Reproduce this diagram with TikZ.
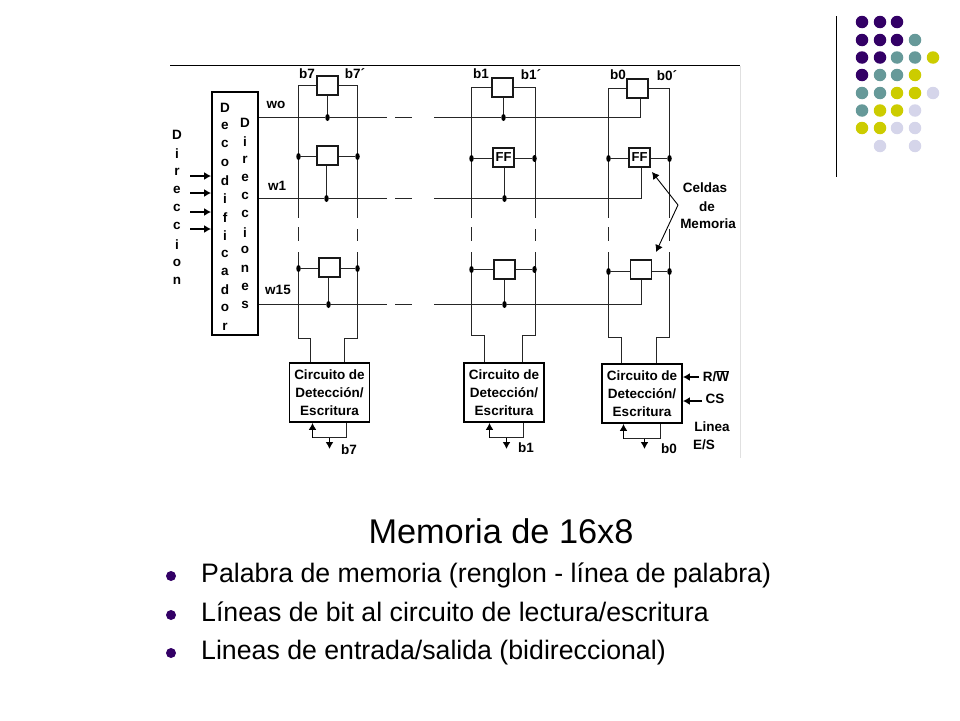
\documentclass[tikz,border=0pt]{standalone}
\usepackage{fontspec}
\setmainfont{Liberation Sans}
\usetikzlibrary{arrows.meta,calc,shapes.geometric}
\definecolor{palP}{HTML}{330066}
\definecolor{palT}{HTML}{669999}
\definecolor{palY}{HTML}{CCCC00}
\definecolor{palL}{HTML}{D5D5EA}
\begin{document}
\begin{tikzpicture}[x=1pt, y=-1pt]
\useasboundingbox (0,0) rectangle (960,720);
\tikzset{wire/.style={line width=1.1pt, color=black!85}}
\tikzset{sig/.style={line width=1.4pt, color=black, -{Latex[length=7pt,width=8pt]}}}
\tikzset{cell/.style={rectangle, draw=black!90, line width=1.8pt, fill=white, minimum width=21pt, minimum height=18.5pt, inner sep=0pt, font=\fontsize{13}{15}\selectfont\bfseries}}
\tikzset{junc/.style={ellipse, fill=black, minimum width=4.5pt, minimum height=7pt, inner sep=0pt}}
\tikzset{lbl/.style={inner sep=0pt, font=\fontsize{13.5}{15}\selectfont\bfseries}}
\tikzset{rw/.style={rectangle, draw=black, line width=1.8pt, fill=white, minimum width=80pt, minimum height=59pt, inner sep=0pt, align=center, font=\fontsize{13.5}{18}\selectfont\bfseries}}
\tikzset{slide/.style={anchor=base west, inner sep=0pt, font=\fontsize{26.7}{30}\selectfont}}
\tikzset{bul/.style={circle, fill=palP, minimum size=10pt, inner sep=0pt}}

% upper rule and right edge of the scan
\coordinate (ruleA) at (170,65.5);
\coordinate (ruleB) at (740,65.5);
\coordinate (edgeB) at (740,458);
\draw[line width=1.1pt] (ruleA) -- (ruleB);
\draw[line width=0.8pt, color=black!12] (ruleB) -- (edgeB);

% bit lines of one column: name, left x, right x, bend y, inner left x, inner right x
\newcommand{\drawcol}[6]{
\coordinate (#1LB) at (#2,218);
\coordinate (#1LC) at (#2,227);
\coordinate (#1LD) at (#2,241);
\coordinate (#1LE) at (#2,252);
\coordinate (#1LF) at (#2,#4);
\coordinate (#1LG) at (#5,#4);
\coordinate (#1RB) at (#3,218);
\coordinate (#1RC) at (#3,229);
\coordinate (#1RD) at (#3,241);
\coordinate (#1RE) at (#3,252);
\coordinate (#1RF) at (#3,#4);
\coordinate (#1RG) at (#6,#4);
\draw[wire] (#1top.west) -| (#1LB);
\draw[wire] (#1LC) -- (#1LD);
\draw[wire] (#1LE) -- (#1LF) -- (#1LG) -- (#1LG |- #1box.north);
\draw[wire] (#1top.east) -| (#1RB);
\draw[wire] (#1RC) -- (#1RD);
\draw[wire] (#1RE) -- (#1RF) -- (#1RG) -- (#1RG |- #1box.north);
}
% read/write loop under a box: name, right x, loop y, left x, tap x
\newcommand{\drawloop}[5]{
\coordinate (#1FA) at (#2,#3);
\coordinate (#1FB) at (#4,#3);
\coordinate (#1FC) at (#5,#3);
\coordinate (#1FD) at (#5,449);
\draw[wire] (#1FA |- #1box.south) -- (#1FA) -- (#1FB);
\draw[sig] (#1FB) -- (#1FB |- #1box.south);
\draw[sig] (#1FC) -- (#1FD);
}

% decoder
\node[rectangle, draw=black, line width=1.8pt, minimum width=46pt, minimum height=243pt, inner sep=0pt] (dec) at (235,213.5) {};
\foreach \l [count=\i from 0] in {D,e,c,o,d,i,f,i,c,a,d,o,r}
	\node[lbl] (decL\i) at (225,108+18.2*\i) {\l};
\foreach \l [count=\i from 0] in {D,i,r,e,c,c,i,o,n,e,s}
	\node[lbl] (dirL\i) at (245,123+18.2*\i) {\l};
\foreach \l [count=\i from 0] in {D,i,r,e,c,c,i,o,n}
	\node[lbl] (adrL\i) at (177,135+18.25*\i) {\l};
\foreach \y [count=\i] in {176,193,212,229} {
	\coordinate (adrS\i) at (190,\y);
	\draw[sig] (adrS\i) -- (adrS\i -| dec.west);
}

% cells
\node[cell] (b7top) at (327.5,85.5) {};
\node[cell] (b7mid) at (327.5,155.5) {};
\node[cell] (b7low) at (329.5,267.5) {};
\node[cell] (b1top) at (502.5,87.5) {};
\node[cell] (b1mid) at (503.5,157.5) {FF};
\node[cell] (b1low) at (504.5,269.5) {};
\node[cell] (b0top) at (637.5,88.5) {};
\node[cell] (b0mid) at (639.5,157.5) {FF};
\node[cell] (b0low) at (641,269.5) {};

% read/write circuits
\node[rw] (b7box) at (329.5,392.5) {Circuito de\\Detección/\\Escritura};
\node[rw] (b1box) at (504,392.5) {Circuito de\\Detección/\\Escritura};
\node[rw] (b0box) at (642,393.5) {Circuito de\\Detección/\\Escritura};

\drawcol{b7}{298.5}{357.5}{338.5}{310.5}{344.5}
\drawcol{b1}{471.5}{535.5}{335.5}{484.5}{522.5}
\drawcol{b0}{608.5}{669.5}{337.5}{621.5}{656.5}

\drawloop{b7}{346.5}{437.5}{312.5}{329.5}
\drawloop{b1}{523.5}{437.5}{489.5}{506.5}
\drawloop{b0}{660.5}{438.5}{623.5}{644.5}

% junctions
\foreach \c/\xl/\xr/\ym/\yl in {b7/298.5/357.5/156.5/268.5, b1/471.5/534.5/158.5/269.5, b0/608.5/669.5/158.5/271.5} {
	\node[junc] (\c midL) at (\xl,\ym) {};
	\node[junc] (\c midR) at (\xr,\ym) {};
	\node[junc] (\c lowL) at (\xl,\yl) {};
	\node[junc] (\c lowR) at (\xr,\yl) {};
	\draw[wire] (\c midL) -- (\c midL -| \c mid.west);
	\draw[wire] (\c mid.east |- \c midR) -- (\c midR);
	\draw[wire] (\c lowL) -- (\c lowL -| \c low.west);
	\draw[wire] (\c low.east |- \c lowR) -- (\c lowR);
}
\node[junc] (w0A) at (327.5,117.5) {};
\node[junc] (w0B) at (503.5,117.5) {};
\coordinate (w0C) at (640.5,117.5);
\node[junc] (w1A) at (326.5,198.5) {};
\node[junc] (w1B) at (504.5,198.5) {};
\coordinate (w1C) at (641.5,198.5);
\node[junc] (w15A) at (328.5,304.5) {};
\node[junc] (w15B) at (504.5,304.5) {};
\coordinate (w15C) at (641.5,304.5);
\draw[wire] (w0A |- b7top.south) -- (w0A);
\draw[wire] (w0B |- b1top.south) -- (w0B);
\draw[wire] (w0C |- b0top.south) -- (w0C);
\draw[wire] (w1A |- b7mid.south) -- (w1A);
\draw[wire] (w1B |- b1mid.south) -- (w1B);
\draw[wire] (w1C |- b0mid.south) -- (w1C);
\draw[wire] (w15A |- b7low.south) -- (w15A);
\draw[wire] (w15B |- b1low.south) -- (w15B);
\draw[wire] (w15C |- b0low.south) -- (w15C);

% word lines
\foreach \w in {w0,w1,w15} {
	\draw[wire] (\w A -| dec.east) -- (\w A) -- (387,0 |- \w A);
	\draw[wire] (395,0 |- \w A) -- (412,0 |- \w A);
	\draw[wire] (434,0 |- \w A) -- (\w B) -- (\w C);
}

% labels
\node[lbl] (lb7) at (307,74) {b7};
\node[lbl] (lb7p) at (355,74) {b7´};
\node[lbl] (lb1) at (481,74) {b1};
\node[lbl] (lb1p) at (531,75) {b1´};
\node[lbl] (lb0) at (618,75) {b0};
\node[lbl] (lb0p) at (667,76) {b0´};
\node[lbl] (lw0) at (276,105) {wo};
\node[lbl] (lw1) at (277,186) {w1};
\node[lbl] (lw15) at (278,290) {w15};
\node[lbl] (ob7) at (349,449.5) {b7};
\node[lbl] (ob1) at (526,448) {b1};
\node[lbl] (ob0) at (669,449) {b0};
\node[lbl] (mem1) at (705,188) {Celdas};
\node[lbl] (mem2) at (707,207) {de};
\node[lbl] (mem3) at (708,224) {Memoria};
\coordinate (memA) at (678,205);
\coordinate (memB) at (652,172);
\coordinate (memC) at (656,252);
\draw[sig, line width=0.9pt] (memA) -- (memB);
\draw[sig, line width=0.9pt] (memA) -- (memC);
\node[lbl] (rwL) at (716,376) {R/$\overline{\mbox{W}}$};
\node[lbl] (csL) at (715,399) {CS};
\node[lbl] (esA) at (712,427) {Linea};
\node[lbl] (esB) at (704,445) {E/S};
\coordinate (rwS) at (699,377);
\coordinate (csS) at (702,401);
\draw[sig] (rwS) -- (rwS -| b0box.east);
\draw[sig] (csS) -- (csS -| b0box.east);

% slide text
\node[anchor=base, inner sep=0pt, font=\fontsize{34.3}{38}\selectfont] (title) at (501,543) {Memoria de 16x8};
\node[bul] (bul1) at (171,576) {};
\node[bul] (bul2) at (171,615) {};
\node[bul] (bul3) at (171,653) {};
\node[slide] (txt1) at (201,582) {Palabra de memoria (renglon - línea de palabra)};
\node[slide] (txt2) at (201,621) {Líneas de bit al circuito de lectura/escritura};
\node[slide] (txt3) at (201,659) {Lineas de entrada/salida (bidireccional)};

% palette in the corner
\coordinate (barA) at (836.5,16);
\coordinate (barB) at (836.5,177);
\draw[line width=1.1pt] (barA) -- (barB);
\foreach \col/\row/\c [count=\i] in {
	862/22/palP, 880/22/palP, 897/22/palP,
	862/40/palP, 880/40/palP, 897/40/palP, 915/40/palT,
	862/57.5/palP, 880/57.5/palP, 897/57.5/palT, 915/57.5/palT, 933/57.5/palY,
	862/75/palP, 880/75/palT, 897/75/palT, 915/75/palY,
	862/93/palT, 880/93/palT, 897/93/palY, 915/93/palY, 933/93/palL,
	862/110.5/palT, 880/110.5/palY, 897/110.5/palY, 915/110.5/palL,
	862/128/palY, 880/128/palY, 897/128/palL, 915/128/palL,
	880/146/palL, 915/146/palL}
	\node[circle, fill=\c, minimum size=12.5pt, inner sep=0pt] (pal\i) at (\col,\row) {};
\end{tikzpicture}
\end{document}
